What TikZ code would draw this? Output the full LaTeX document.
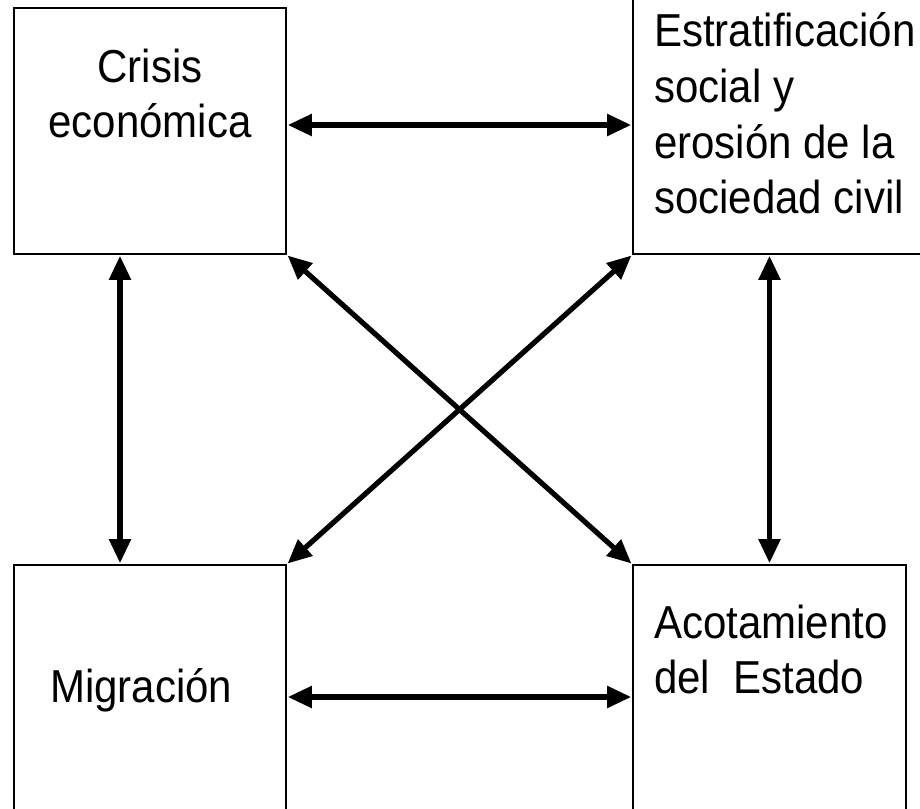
\documentclass[tikz,border=0pt]{standalone}
\usepackage{fontspec}
\setmainfont{Liberation Sans}
\usetikzlibrary{arrows.meta}
\newcommand{\tallt}[1]{\scalebox{1}[1.1]{#1}}
\begin{document}
\begin{tikzpicture}[x=1pt,y=-1pt,
  box/.style={draw=black,line width=1.6pt,rectangle,inner sep=0pt,fill=white},
  lbl/.style={inner sep=0pt,font=\fontsize{42}{55.5}\selectfont},
  link/.style={line width=5.2pt,{Triangle[length=24pt,width=21pt]}-{Triangle[length=24pt,width=21pt]},shorten <=1pt,shorten >=1pt}]
\useasboundingbox (0,0) rectangle (920,808);
\fill[white] (0,0) rectangle (920,808);
\node[box,minimum width=272pt,minimum height=246pt] (cr) at (150,131) {};
\node[box,minimum width=297pt,minimum height=264pt] (er) at (781.5,122) {};
\node[box,minimum width=272pt,minimum height=255pt] (mi) at (150,692.5) {};
\node[box,minimum width=273pt,minimum height=255pt] (ac) at (769.5,692.5) {};
\node[lbl,anchor=base] (t1) at (150,82) {\tallt{Crisis}};
\node[lbl,anchor=base] (t2) at (150,137) {\tallt{económica}};
\node[lbl,anchor=base west] (t3) at (654,47) {\tallt{Estratificación}};
\node[lbl,anchor=base west] (t4) at (654,102.5) {\tallt{social y}};
\node[lbl,anchor=base west] (t5) at (654,158) {\tallt{erosión de la}};
\node[lbl,anchor=base west] (t6) at (654,213.5) {\tallt{sociedad civil}};
\node[lbl,anchor=base west] (t7) at (50,702) {\tallt{Migración}};
\node[lbl,anchor=base west] (t8) at (654,638) {\tallt{Acotamiento}};
\node[lbl,anchor=base west] (t9) at (654,693) {\tallt{del\ \ Estado}};
\draw[link] ([yshift=6pt]cr.east) -- ([yshift=6pt]cr.east -| er.west);
\draw[link] ([yshift=-4.5pt]mi.east) -- ([yshift=-4.5pt]mi.east -| ac.west);
\draw[link] ([xshift=-30pt]cr.south) -- ([xshift=-30pt]cr.south |- mi.north);
\draw[link] (ac.north |- er.south) -- (ac.north);
\draw[link] (cr.south east) -- (ac.north west);
\draw[link] (er.south west) -- (mi.north east);
\end{tikzpicture}
\end{document}
